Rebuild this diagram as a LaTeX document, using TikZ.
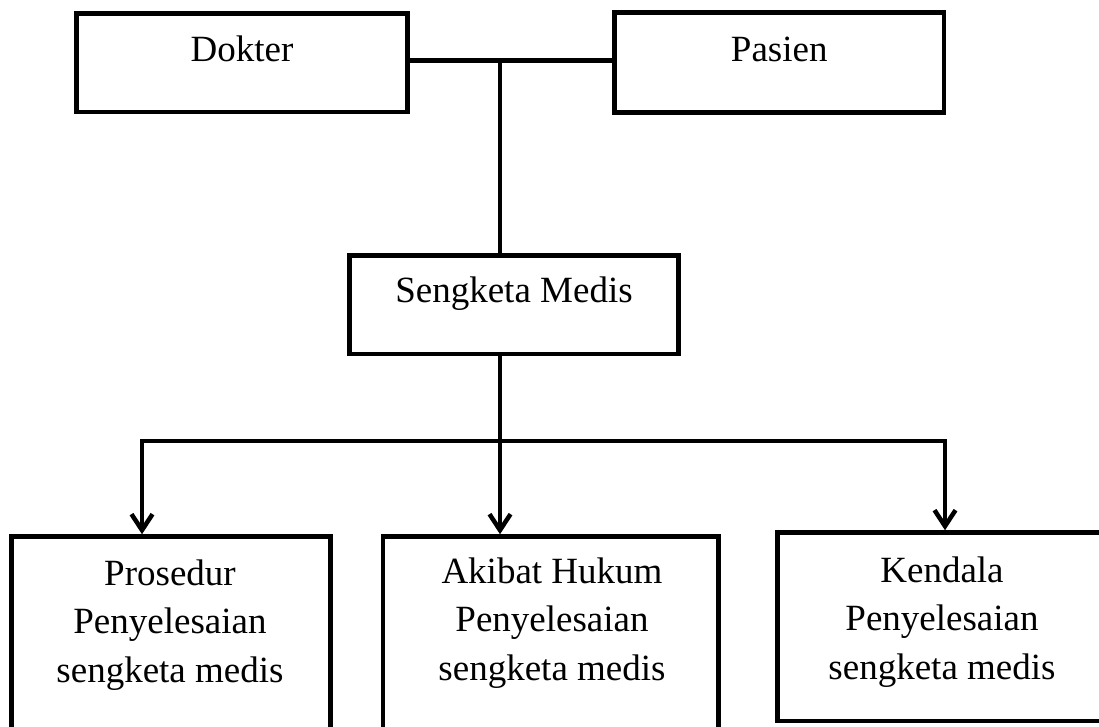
\documentclass[tikz,border=0pt]{standalone}
\usepackage{fontspec}
\setmainfont{Liberation Serif}
\usetikzlibrary{arrows.meta}
\begin{document}
\begin{tikzpicture}[x=1pt,y=-1pt,
  txt/.style={font=\fontsize{37pt}{48.5pt}\selectfont},
  rectbox/.style={draw, line width=4.5pt, inner sep=0pt, fill=white, txt},
  conn/.style={line width=4.5pt},
  arr/.style={conn, -{Straight Barb[length=16pt,width=21pt]}},
  lbl/.style={inner sep=0pt, align=center, anchor=north, txt}]
\useasboundingbox (0,0) rectangle (1099,726);
\clip (0,0) rectangle (1099,726);
% top boxes
\node[rectbox, minimum width=331pt, minimum height=98.5pt, text height=30pt, text depth=33.5pt] (dokter) at (242,62.75) {Dokter};
\node[rectbox, minimum width=329.5pt, minimum height=100pt, text height=30pt, text depth=33pt] (pasien) at (779.25,62.5) {Pasien};
\node[rectbox, minimum width=329pt, minimum height=98.5pt, text height=30pt, text depth=35.5pt] (sengketa) at (514,304.75) {Sengketa Medis};
% bottom boxes
\node[rectbox, minimum width=318.8pt, minimum height=198.5pt] (prosedur) at (171.1,635.75) {};
\node[rectbox, minimum width=335.5pt, minimum height=198.5pt] (akibat) at (550.75,635.75) {};
\node[rectbox, minimum width=330pt, minimum height=188.5pt] (kendala) at (942.5,626.75) {};
\node[lbl] (prosedurtxt) at (170,559.5) {Prosedur\\Penyelesaian\\sengketa medis};
\node[lbl] (akibattxt) at (552,557.5) {Akibat Hukum\\Penyelesaian\\sengketa medis};
\node[lbl] (kendalatxt) at (942,556.5) {Kendala\\Penyelesaian\\sengketa medis};
% connectors
\coordinate (ht) at (500,60.5);
\coordinate (hb) at (500,441);
\coordinate (hl) at (142,441);
\coordinate (hr) at (945,441);
\draw[conn] (dokter.east |- ht) -- (pasien.west |- ht);
\draw[conn] (ht) -- (ht |- sengketa.north);
\draw[arr] (hb |- sengketa.south) -- (hb |- akibat.north);
\draw[arr] (hb) -- (hl) -- (hl |- prosedur.north);
\draw[arr] (hb) -- (hr) -- (hr |- kendala.north);
\end{tikzpicture}
\end{document}
